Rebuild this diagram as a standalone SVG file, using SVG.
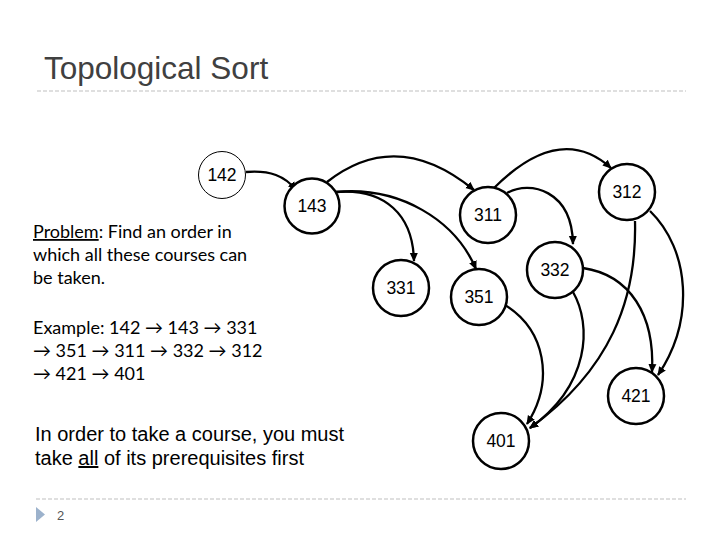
<svg xmlns="http://www.w3.org/2000/svg" width="720" height="540" viewBox="0 0 720 540">
<style>
.title{font-family:"Liberation Sans",Arial,sans-serif;font-size:31.5px;fill:#404040}
.body{font-family:Lato,"Open Sans","DejaVu Sans",sans-serif;font-size:18px;fill:#000}
.arial{font-family:"Liberation Sans",Arial,sans-serif;font-size:20px;fill:#000}
.lbl{font-family:"Liberation Sans",Arial,sans-serif;font-size:17.5px;fill:#000;text-anchor:middle}
.node{fill:#fff;stroke:#000;stroke-width:2.5}
.thin{fill:#fff;stroke:#000;stroke-width:1}
.edge{fill:none;stroke:#000;stroke-width:2.3;marker-end:url(#ah)}
.rule{stroke:#bfbfbf;stroke-width:1;stroke-dasharray:4 2}
.ul{text-decoration:underline}
</style>
<defs>
<marker id="ah" markerWidth="10" markerHeight="10" refX="8" refY="5" orient="auto" markerUnits="userSpaceOnUse">
<path d="M0,1 L9,5 L0,9 Z" fill="#000"/>
</marker>
</defs>
<rect width="720" height="540" fill="#fff"/>
<text class="title" x="44" y="79">Topological Sort</text>
<line class="rule" x1="37" y1="91" x2="686" y2="91"/>
<line class="rule" x1="36" y1="499" x2="686" y2="499"/>
<path d="M36,507 L45,514.5 L36,522 Z" fill="#9cb2cc"/>
<text x="57" y="520" font-family="Liberation Sans,Arial,sans-serif" font-size="13" fill="#555">2</text>

<text class="body"><tspan x="33" y="238"><tspan class="ul">Problem</tspan>: Find an order in</tspan><tspan x="33" y="261">which all these courses can</tspan><tspan x="33" y="284">be taken.</tspan></text>
<text class="body"><tspan x="33" y="334">Example: 142 → 143 → 331</tspan><tspan x="33" y="357">→ 351 → 311 → 332 → 312</tspan><tspan x="33" y="380">→ 421 → 401</tspan></text>
<text class="arial"><tspan x="35" y="441">In order to take a course, you must</tspan><tspan x="35" y="465">take <tspan class="ul">all</tspan> of its prerequisites first</tspan></text>

<g id="connectors">
<path class="edge" d="M246,172 C270,170 285,176 296,190"/>
<path class="edge" d="M327,182 Q397,127 474,190"/>
<path class="edge" d="M336,192 C385,188 413,215 414,261"/>
<path class="edge" d="M336,192 C400,186 455,220 476,269"/>
<path class="edge" d="M494,188 Q560,122 611,168"/>
<path class="edge" d="M507,193 C530,180 572,190 573,244"/>
<path class="edge" d="M650,211 C690,250 695,320 658,375"/>
<path class="edge" d="M635,221 C637,300 610,370 530,428"/>
<path class="edge" d="M583,268 C630,275 655,315 652,372"/>
<path class="edge" d="M573,292 C592,325 590,385 530,428"/>
<path class="edge" d="M505,305 C545,330 555,380 527,424"/>
</g>

<g id="n142"><circle class="thin" cx="222" cy="175" r="23.5"/><text class="lbl" x="222" y="181">142</text></g>
<g id="n143"><circle class="node" cx="312" cy="206" r="27.5"/><text class="lbl" x="312" y="212">143</text></g>
<g id="n311"><circle class="node" cx="488" cy="215" r="28"/><text class="lbl" x="488" y="221">311</text></g>
<g id="n312"><circle class="node" cx="627" cy="192" r="28"/><text class="lbl" x="627" y="198">312</text></g>
<g id="n331"><circle class="node" cx="401" cy="288" r="28"/><text class="lbl" x="401" y="294">331</text></g>
<g id="n351"><circle class="node" cx="479" cy="297" r="28"/><text class="lbl" x="479" y="303">351</text></g>
<g id="n332"><circle class="node" cx="555" cy="270" r="28"/><text class="lbl" x="555" y="276">332</text></g>
<g id="n421"><circle class="node" cx="636" cy="396" r="28"/><text class="lbl" x="636" y="402">421</text></g>
<g id="n401"><circle class="node" cx="501" cy="441" r="28"/><text class="lbl" x="501" y="447">401</text></g>
</svg>
